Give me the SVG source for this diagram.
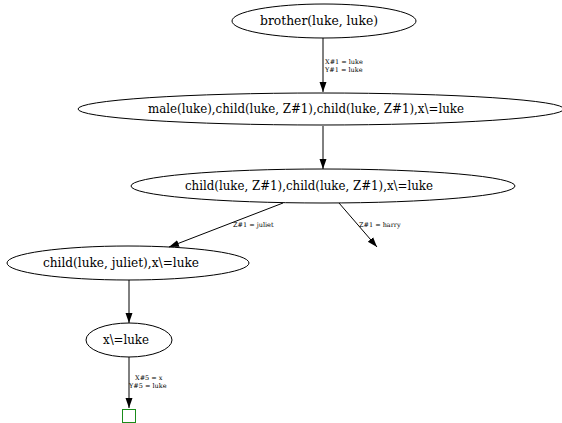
<svg xmlns="http://www.w3.org/2000/svg" width="562" height="423" viewBox="0 0 562 423">
<style>
.n ellipse{fill:none;stroke:#000;stroke-width:1}
.n text{font-family:"DejaVu Serif",serif;font-size:12.3px;fill:#000}
.e line{stroke:#000;stroke-width:1}
.l{font-family:"DejaVu Serif",serif;font-size:6.5px;fill:#000}
</style>
<defs>
<marker id="a" viewBox="0 0 10 10" refX="10" refY="5" markerWidth="10" markerHeight="10" markerUnits="userSpaceOnUse" orient="auto"><path d="M0,1.5 L10,5 L0,8.5 Z" fill="#000"/></marker>
</defs>
<rect width="562" height="423" fill="#fff"/>
<g id="edges" class="e">
<line x1="323" y1="38" x2="323" y2="92" marker-end="url(#a)"/>
<line x1="323" y1="126" x2="323" y2="169" marker-end="url(#a)"/>
<line x1="283" y1="203" x2="169" y2="247" marker-end="url(#a)"/>
<line x1="339" y1="203" x2="377" y2="247" marker-end="url(#a)"/>
<line x1="129" y1="280" x2="129" y2="323" marker-end="url(#a)"/>
<line x1="129" y1="357" x2="129" y2="408" marker-end="url(#a)"/>
<text class="l" x="325" y="64">X#1 = luke</text>
<text class="l" x="325" y="72">Y#1 = luke</text>
<text class="l" x="233" y="227">Z#1 = juliet</text>
<text class="l" x="359" y="227">Z#1 = harry</text>
<text class="l" x="135" y="380">X#5 = x</text>
<text class="l" x="129" y="388">Y#5 = luke</text>
</g>
<g id="n1" class="n"><ellipse cx="324" cy="21" rx="92" ry="17"/><text x="260" y="25" textLength="118" lengthAdjust="spacingAndGlyphs">brother(luke, luke)</text></g>
<g id="n2" class="n"><ellipse cx="321" cy="109" rx="243" ry="16"/><text x="148" y="113" textLength="316" lengthAdjust="spacingAndGlyphs">male(luke),child(luke, Z#1),child(luke, Z#1),x\=luke</text></g>
<g id="n3" class="n"><ellipse cx="323" cy="186" rx="192" ry="17"/><text x="185" y="190" textLength="248" lengthAdjust="spacingAndGlyphs">child(luke, Z#1),child(luke, Z#1),x\=luke</text></g>
<g id="n4" class="n"><ellipse cx="128" cy="263" rx="121" ry="17"/><text x="43" y="267" textLength="156" lengthAdjust="spacingAndGlyphs">child(luke, juliet),x\=luke</text></g>
<g id="n5" class="n"><ellipse cx="129" cy="340" rx="43" ry="17"/><text x="103" y="344" textLength="46" lengthAdjust="spacingAndGlyphs">x\=luke</text></g>
<g id="n6"><rect x="122.5" y="409.5" width="13" height="13" fill="none" stroke="#1a8c1a" stroke-width="1"/></g>
</svg>
